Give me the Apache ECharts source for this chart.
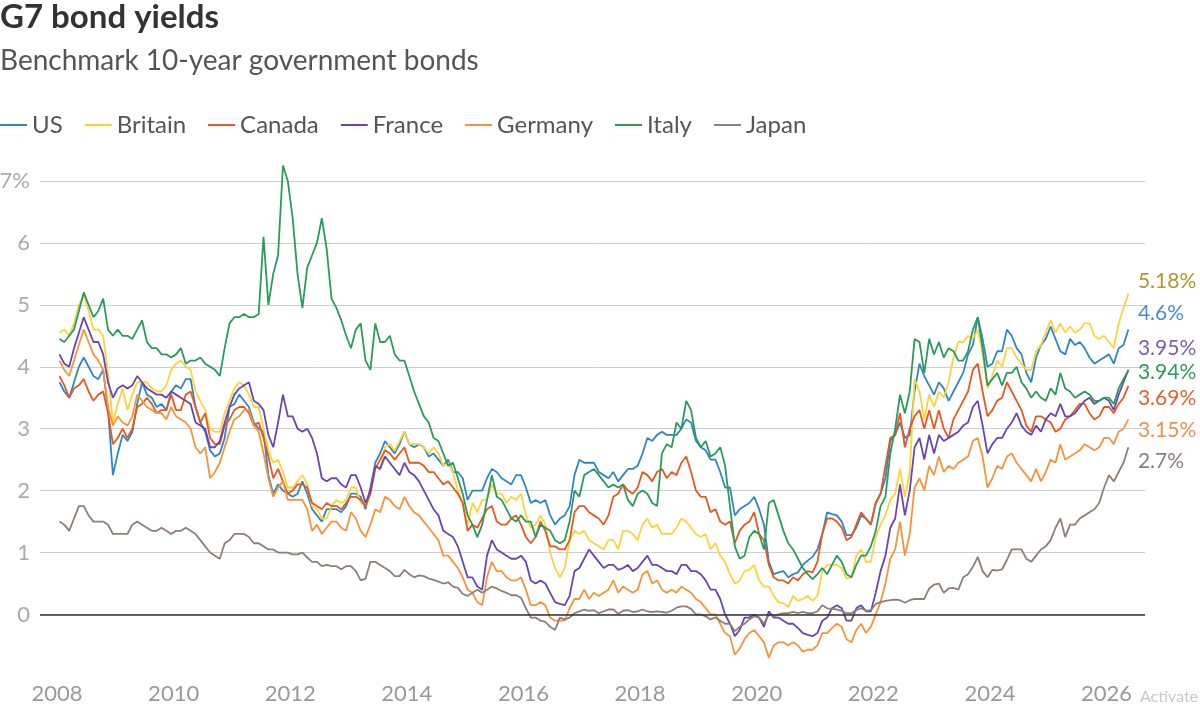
<!DOCTYPE html>
<html>
<head>
<meta charset="utf-8">
<title>G7 bond yields</title>
<script src="https://cdn.jsdelivr.net/npm/echarts@6/dist/echarts.min.js"></script>
<style>
  html, body { margin: 0; padding: 0; background: #fff; }
  #chart { width: 1200px; height: 709px; }
</style>
</head>
<body>
<div id="chart"></div>
<script>
// Benchmark 10-year government bond yields (%), one value per month,
// Jan 2008 .. May 2026
const startYear = 2008;
const yearTicks = [2008, 2010, 2012, 2014, 2016, 2018, 2020, 2022, 2024, 2026];
const countries = ['US', 'Britain', 'Canada', 'France', 'Germany', 'Italy', 'Japan'];

const usYields = [
  3.75, 3.6, 3.5, 3.75, 4.0, 4.15, 4.0, 3.85, 3.8, 3.95, 3.3, 2.25,
  2.6, 2.9, 2.8, 2.95, 3.4, 3.75, 3.55, 3.5, 3.35, 3.4, 3.3, 3.6,
  3.7, 3.65, 3.8, 3.8, 3.35, 3.1, 2.95, 2.65, 2.55, 2.6, 2.85, 3.35,
  3.4, 3.55, 3.45, 3.35, 3.1, 3.0, 2.95, 2.25, 1.95, 2.1, 2.0, 1.95,
  1.9, 1.95, 2.15, 1.95, 1.7, 1.6, 1.5, 1.7, 1.7, 1.7, 1.65, 1.75,
  1.95, 1.95, 1.9, 1.7, 2.05, 2.45, 2.6, 2.8, 2.7, 2.6, 2.75, 2.95,
  2.75, 2.7, 2.75, 2.7, 2.55, 2.6, 2.5, 2.4, 2.5, 2.3, 2.3, 2.2,
  1.85, 2.0, 2.0, 2.0, 2.2, 2.35, 2.3, 2.2, 2.15, 2.1, 2.25, 2.25,
  2.05, 1.8, 1.85, 1.8, 1.85, 1.6, 1.45, 1.55, 1.6, 1.75, 2.25, 2.5,
  2.45, 2.45, 2.45, 2.3, 2.25, 2.2, 2.3, 2.15, 2.25, 2.35, 2.35, 2.4,
  2.6, 2.85, 2.8, 2.9, 2.95, 2.9, 2.9, 2.9, 3.0, 3.15, 3.1, 2.8,
  2.7, 2.65, 2.5, 2.5, 2.3, 2.05, 2.05, 1.6, 1.7, 1.75, 1.8, 1.9,
  1.7, 1.45, 0.85, 0.65, 0.68, 0.7, 0.6, 0.65, 0.68, 0.8, 0.87, 0.93,
  1.05, 1.3, 1.65, 1.62, 1.6, 1.5, 1.28, 1.28, 1.4, 1.6, 1.55, 1.45,
  1.8, 1.95, 2.2, 2.8, 2.9, 3.1, 2.85, 2.9, 3.6, 4.05, 3.85, 3.7,
  3.55, 3.75, 3.65, 3.45, 3.6, 3.75, 3.9, 4.2, 4.35, 4.8, 4.45, 4.0,
  4.05, 4.25, 4.25, 4.6, 4.5, 4.3, 4.2, 3.9, 3.75, 4.15, 4.35, 4.45,
  4.65, 4.45, 4.25, 4.2, 4.45, 4.35, 4.4, 4.3, 4.15, 4.05, 4.1, 4.15,
  4.2, 4.05, 4.3, 4.35, 4.6
];

const britainYields = [
  4.55, 4.6, 4.5, 4.7, 5.0, 5.15, 4.9, 4.6, 4.6, 4.5, 3.9, 3.1,
  3.4, 3.65, 3.3, 3.55, 3.75, 3.75, 3.75, 3.65, 3.6, 3.6, 3.7, 3.95,
  4.05, 4.1, 4.0, 3.95, 3.6, 3.45, 3.3, 3.0, 2.95, 2.95, 3.25, 3.45,
  3.65, 3.75, 3.7, 3.55, 3.35, 3.35, 3.0, 2.65, 2.45, 2.5, 2.3, 2.05,
  2.05, 2.15, 2.25, 2.1, 1.75, 1.7, 1.55, 1.55, 1.75, 1.85, 1.8, 1.85,
  2.05, 2.05, 1.8, 1.75, 1.95, 2.4, 2.35, 2.7, 2.75, 2.65, 2.8, 2.95,
  2.75, 2.75, 2.75, 2.7, 2.6, 2.7, 2.6, 2.4, 2.45, 2.3, 2.0, 1.8,
  1.45, 1.8, 1.65, 1.85, 1.85, 2.1, 1.95, 1.95, 1.8, 1.9, 1.85, 1.95,
  1.6, 1.4, 1.45, 1.6, 1.45, 1.0, 0.75, 0.6, 0.75, 1.2, 1.35, 1.3,
  1.35, 1.2, 1.15, 1.1, 1.05, 1.2, 1.2, 1.05, 1.35, 1.35, 1.3, 1.2,
  1.45, 1.55, 1.4, 1.45, 1.3, 1.3, 1.3, 1.4, 1.55, 1.5, 1.4, 1.3,
  1.25, 1.3, 1.05, 1.15, 0.95, 0.85, 0.65, 0.5, 0.55, 0.7, 0.72, 0.8,
  0.55, 0.45, 0.45, 0.3, 0.2, 0.18, 0.12, 0.3, 0.22, 0.25, 0.3, 0.22,
  0.3, 0.7, 0.8, 0.8, 0.8, 0.75, 0.58, 0.6, 0.95, 1.05, 0.85, 0.85,
  1.25, 1.45, 1.6, 1.85, 1.95, 2.35, 1.9, 2.3, 3.8, 3.6, 3.15, 3.55,
  3.35, 3.6, 3.5, 3.75, 4.15, 4.4, 4.4, 4.5, 4.45, 4.6, 4.2, 3.65,
  3.85, 4.1, 4.0, 4.3, 4.3, 4.15, 4.05, 3.95, 3.95, 4.25, 4.35, 4.55,
  4.75, 4.55, 4.7, 4.55, 4.65, 4.55, 4.6, 4.7, 4.7, 4.5, 4.45, 4.5,
  4.4, 4.3, 4.7, 4.95, 5.18
];

const canadaYields = [
  3.85, 3.7, 3.5, 3.65, 3.7, 3.8, 3.6, 3.45, 3.55, 3.6, 3.25, 2.75,
  2.85, 3.0, 2.85, 3.0, 3.35, 3.4, 3.5, 3.4, 3.25, 3.3, 3.3, 3.55,
  3.3, 3.3, 3.55, 3.6, 3.35, 3.1, 3.25, 2.85, 2.75, 2.75, 3.05, 3.15,
  3.3, 3.35, 3.35, 3.25, 3.05, 3.1, 2.85, 2.55, 2.2, 2.35, 2.15, 1.95,
  2.0, 2.1, 2.1, 2.05, 1.8, 1.75, 1.7, 1.8, 1.75, 1.75, 1.7, 1.8,
  1.9, 1.9, 1.85, 1.75, 1.95, 2.35, 2.5, 2.65, 2.6, 2.5, 2.6, 2.7,
  2.45, 2.45, 2.45, 2.4, 2.3, 2.3, 2.2, 2.1, 2.15, 2.05, 1.95, 1.8,
  1.35, 1.45, 1.4, 1.55, 1.7, 1.75, 1.5, 1.45, 1.45, 1.55, 1.6, 1.45,
  1.25, 1.15, 1.25, 1.5, 1.35, 1.1, 1.1, 1.05, 1.05, 1.2, 1.65, 1.75,
  1.75, 1.65, 1.6, 1.55, 1.45, 1.6, 1.9, 1.95, 2.1, 2.0, 1.95, 2.05,
  2.3, 2.25, 2.15, 2.3, 2.35, 2.2, 2.3, 2.25, 2.45, 2.55, 2.3, 2.0,
  1.9, 1.9, 1.65, 1.7, 1.5, 1.45, 1.5, 1.15, 1.35, 1.45, 1.5, 1.65,
  1.3, 1.2, 0.8, 0.6, 0.55, 0.55, 0.5, 0.6, 0.55, 0.65, 0.7, 0.68,
  0.85, 1.3, 1.55, 1.55, 1.5, 1.4, 1.2, 1.25, 1.45, 1.65, 1.55, 1.45,
  1.8, 1.95, 2.4, 2.85, 2.9, 3.25, 2.7, 3.0, 3.2, 3.3, 3.0, 3.3,
  3.0, 3.3, 3.0, 2.85, 3.15, 3.3, 3.45, 3.6, 3.95, 4.05, 3.6, 3.2,
  3.3, 3.45, 3.5, 3.75, 3.6, 3.45, 3.3, 3.05, 2.95, 3.2, 3.2, 3.15,
  3.1, 2.95, 3.0, 3.15, 3.2, 3.3, 3.4, 3.4, 3.25, 3.15, 3.2, 3.35,
  3.35, 3.25, 3.4, 3.5, 3.69
];

const franceYields = [
  4.2, 4.05, 4.0, 4.3, 4.55, 4.8, 4.6, 4.4, 4.4, 4.2, 3.75, 3.5,
  3.65, 3.7, 3.65, 3.7, 3.85, 3.75, 3.65, 3.6, 3.55, 3.55, 3.5, 3.6,
  3.55, 3.5, 3.45, 3.4, 3.1, 3.05, 3.0, 2.7, 2.7, 2.8, 3.1, 3.35,
  3.55, 3.65, 3.7, 3.75, 3.45, 3.4, 3.3, 2.9, 2.7, 3.1, 3.55, 3.2,
  3.2, 3.0, 2.95, 3.0, 2.85, 2.6, 2.2, 2.15, 2.2, 2.2, 2.1, 2.05,
  2.25, 2.25, 2.05, 1.8, 2.0, 2.4, 2.35, 2.55, 2.45, 2.35, 2.25, 2.45,
  2.3, 2.25, 2.15, 2.0, 1.85, 1.7, 1.6, 1.35, 1.3, 1.25, 1.1, 0.85,
  0.6, 0.6, 0.45, 0.4, 0.95, 1.2, 1.05, 1.0, 0.95, 0.9, 0.9, 0.95,
  0.85, 0.55, 0.5, 0.55, 0.5, 0.35, 0.2, 0.17, 0.15, 0.3, 0.7, 0.75,
  0.9, 1.05, 0.95, 0.85, 0.75, 0.8, 0.8, 0.72, 0.75, 0.8, 0.7, 0.75,
  0.85, 0.95, 0.8, 0.8, 0.75, 0.7, 0.7, 0.65, 0.8, 0.8, 0.7, 0.7,
  0.65, 0.55, 0.4, 0.4, 0.25, 0.0, -0.15, -0.35, -0.25, -0.05, -0.05, 0.0,
  -0.05, -0.2, 0.05, -0.05, -0.05, -0.1, -0.15, -0.15, -0.22, -0.3, -0.33, -0.35,
  -0.3, -0.1, -0.05, 0.1, 0.15, 0.1, -0.1, -0.1, 0.1, 0.15, 0.05, 0.05,
  0.35, 0.7, 0.95, 1.4, 1.55, 2.1, 1.6, 2.0, 2.7, 2.85, 2.5, 2.9,
  2.6, 2.9, 2.8, 2.85, 2.9, 2.95, 3.05, 3.1, 3.35, 3.45, 3.05, 2.6,
  2.75, 2.85, 2.85, 3.0, 3.1, 3.25, 3.05, 2.95, 2.9, 3.05, 2.95, 3.15,
  3.25, 3.2, 3.4, 3.2, 3.2, 3.25, 3.35, 3.45, 3.5, 3.4, 3.45, 3.5,
  3.45, 3.3, 3.55, 3.75, 3.95
];

const germanyYields = [
  4.1, 3.95, 3.85, 4.1, 4.35, 4.6, 4.4, 4.2, 4.1, 3.95, 3.35, 3.05,
  3.2, 3.1, 3.05, 3.2, 3.55, 3.45, 3.35, 3.3, 3.25, 3.25, 3.15, 3.35,
  3.2, 3.15, 3.1, 3.0, 2.7, 2.6, 2.7, 2.2, 2.3, 2.45, 2.7, 2.95,
  3.15, 3.2, 3.3, 3.3, 3.05, 2.95, 2.6, 2.2, 1.9, 2.05, 2.15, 1.85,
  1.85, 1.85, 1.85, 1.7, 1.35, 1.45, 1.3, 1.4, 1.5, 1.5, 1.4, 1.35,
  1.65, 1.55, 1.35, 1.25, 1.45, 1.7, 1.65, 1.9, 1.85, 1.75, 1.7, 1.9,
  1.75, 1.65, 1.6, 1.5, 1.4, 1.3, 1.2, 0.95, 0.95, 0.85, 0.75, 0.6,
  0.4, 0.35, 0.2, 0.15, 0.6, 0.85, 0.7, 0.7, 0.6, 0.55, 0.55, 0.6,
  0.4, 0.15, 0.15, 0.2, 0.15, -0.05, -0.1, -0.1, -0.1, 0.1, 0.25, 0.25,
  0.4, 0.25, 0.35, 0.3, 0.35, 0.4, 0.55, 0.35, 0.45, 0.4, 0.35, 0.4,
  0.65, 0.7, 0.5, 0.55, 0.4, 0.35, 0.4, 0.35, 0.45, 0.4, 0.35, 0.25,
  0.2, 0.1, 0.0, 0.0, -0.15, -0.3, -0.35, -0.65, -0.55, -0.4, -0.3, -0.25,
  -0.35, -0.45, -0.7, -0.5, -0.45, -0.45, -0.5, -0.45, -0.5, -0.6, -0.57, -0.57,
  -0.5, -0.3, -0.3, -0.22, -0.15, -0.2, -0.4, -0.45, -0.25, -0.15, -0.3, -0.2,
  0.0, 0.2, 0.5, 0.9, 1.05, 1.5, 0.95, 1.3, 2.05, 2.2, 2.0, 2.4,
  2.25, 2.55, 2.3, 2.4, 2.35, 2.45, 2.5, 2.55, 2.8, 2.85, 2.55, 2.05,
  2.2, 2.4, 2.35, 2.55, 2.6, 2.45, 2.35, 2.25, 2.15, 2.35, 2.15, 2.3,
  2.5, 2.45, 2.75, 2.5, 2.55, 2.6, 2.65, 2.75, 2.7, 2.65, 2.7, 2.85,
  2.85, 2.75, 2.95, 3.0, 3.15
];

const italyYields = [
  4.45, 4.4, 4.5, 4.6, 4.9, 5.2, 5.0, 4.8, 4.9, 5.1, 4.6, 4.5,
  4.6, 4.5, 4.5, 4.45, 4.6, 4.75, 4.4, 4.3, 4.3, 4.2, 4.2, 4.15,
  4.2, 4.3, 4.05, 4.1, 4.1, 4.15, 4.05, 4.0, 3.95, 3.85, 4.3, 4.7,
  4.8, 4.8, 4.85, 4.8, 4.8, 4.85, 6.1, 5.0, 5.5, 5.8, 7.25, 7.0,
  6.4, 5.5, 4.95, 5.6, 5.8, 6.0, 6.4, 5.9, 5.1, 4.95, 4.75, 4.5,
  4.3, 4.6, 4.7, 4.1, 3.95, 4.7, 4.4, 4.4, 4.5, 4.2, 4.1, 4.1,
  3.85, 3.6, 3.4, 3.2, 3.1, 2.85, 2.8, 2.6, 2.4, 2.45, 2.2, 1.95,
  1.6, 1.45, 1.25, 1.45, 1.85, 2.25, 1.9, 1.85, 1.7, 1.55, 1.5, 1.6,
  1.5, 1.5, 1.25, 1.45, 1.4, 1.35, 1.2, 1.15, 1.2, 1.5, 2.0, 1.9,
  2.25, 2.3, 2.35, 2.25, 2.15, 2.05, 2.1, 2.05, 2.1, 1.85, 1.75, 1.95,
  2.0, 1.95, 1.8, 1.75, 2.6, 2.75, 2.7, 3.1, 3.0, 3.45, 3.3, 2.85,
  2.7, 2.8, 2.55, 2.6, 2.7, 2.4, 1.75, 1.1, 0.9, 0.95, 1.25, 1.35,
  1.3, 1.05, 1.8, 1.85, 1.6, 1.35, 1.15, 1.05, 0.9, 0.75, 0.65, 0.57,
  0.65, 0.75, 0.65, 0.8, 0.95, 0.85, 0.65, 0.6, 0.8, 0.95, 0.95, 1.1,
  1.35, 1.75, 1.9, 2.6, 3.0, 3.55, 3.25, 3.6, 4.45, 4.4, 3.9, 4.45,
  4.2, 4.4, 4.15, 4.3, 4.25, 4.1, 4.1, 4.25, 4.6, 4.8, 4.3, 3.7,
  3.8, 3.9, 3.7, 3.9, 3.9, 4.0, 3.75, 3.65, 3.5, 3.6, 3.5, 3.45,
  3.65, 3.55, 3.9, 3.65, 3.6, 3.5, 3.55, 3.6, 3.55, 3.45, 3.45, 3.5,
  3.5, 3.4, 3.65, 3.8, 3.94
];

const japanYields = [
  1.5, 1.45, 1.35, 1.55, 1.75, 1.75, 1.6, 1.5, 1.5, 1.5, 1.45, 1.3,
  1.3, 1.3, 1.3, 1.45, 1.5, 1.45, 1.4, 1.35, 1.35, 1.4, 1.35, 1.3,
  1.35, 1.35, 1.4, 1.35, 1.3, 1.2, 1.1, 1.0, 0.95, 0.9, 1.15, 1.2,
  1.3, 1.3, 1.3, 1.25, 1.15, 1.15, 1.1, 1.05, 1.05, 1.0, 1.0, 1.0,
  0.97, 0.97, 1.0, 0.92, 0.85, 0.85, 0.78, 0.8, 0.78, 0.78, 0.73, 0.78,
  0.78, 0.7, 0.55, 0.58, 0.85, 0.85, 0.8, 0.75, 0.7, 0.62, 0.62, 0.72,
  0.65, 0.6, 0.63, 0.62, 0.58, 0.56, 0.53, 0.5, 0.52, 0.45, 0.43, 0.33,
  0.3, 0.35, 0.4, 0.35, 0.4, 0.45, 0.42, 0.38, 0.35, 0.31, 0.31, 0.27,
  0.1, -0.05, -0.05, -0.1, -0.12, -0.2, -0.25, -0.05, -0.08, -0.05, 0.02, 0.05,
  0.08, 0.06, 0.07, 0.02, 0.05, 0.08, 0.08, 0.01, 0.06, 0.07, 0.04, 0.05,
  0.08, 0.05, 0.04, 0.05, 0.04, 0.03, 0.06, 0.11, 0.13, 0.13, 0.09, 0.0,
  0.0, -0.03, -0.08, -0.05, -0.1, -0.15, -0.15, -0.27, -0.2, -0.15, -0.08, -0.03,
  -0.05, -0.15, 0.0, -0.03, 0.0, 0.02, 0.02, 0.04, 0.02, 0.04, 0.02, 0.02,
  0.05, 0.15, 0.1, 0.09, 0.08, 0.06, 0.02, 0.02, 0.07, 0.1, 0.06, 0.07,
  0.17, 0.2, 0.22, 0.23, 0.24, 0.23, 0.19, 0.23, 0.25, 0.25, 0.25, 0.42,
  0.48, 0.5, 0.35, 0.42, 0.43, 0.4, 0.6, 0.65, 0.77, 0.93, 0.7, 0.6,
  0.72, 0.71, 0.73, 0.88, 1.05, 1.05, 1.05, 0.9, 0.85, 0.95, 1.05, 1.1,
  1.2, 1.4, 1.55, 1.25, 1.45, 1.45, 1.55, 1.6, 1.65, 1.7, 1.8, 2.05,
  2.25, 2.15, 2.3, 2.45, 2.7
];

const yieldsByCountry = [usYields, britainYields, canadaYields, franceYields, germanyYields, italyYields, japanYields];

// styling
const FONT = 'Lato, "Noto Sans", sans-serif';
const lineColors = ['#2f86c6', '#fdd33b', '#e7581f', '#6a45b0', '#f7943a', '#2a9b5b', '#8f7f75'];
const labelColors = ['#4b8ccc', '#b3972c', '#e06432', '#7b5db7', '#e9924a', '#2f9a5c', '#8a7f7a'];
// vertical nudge of each end label so they don't collide
const labelShift = [-16, -12, 12, -22, 11, 2, 14];

const toPoints = (vals) => vals.map((v, i) => [startYear + (i + 0.5) / 12, v]);

const chart = echarts.init(document.getElementById('chart'));

const series = countries.map((name, k) => {
  const pts = toPoints(yieldsByCountry[k]);
  const last = pts[pts.length - 1];
  const s = {
    name,
    type: 'line',
    data: pts,
    showSymbol: false,
    symbol: 'none',
    color: lineColors[k],
    lineStyle: { width: 1.8, color: lineColors[k] },
    emphasis: { disabled: true },
    markPoint: {
      silent: true,
      symbol: 'circle',
      symbolSize: 1,
      itemStyle: { color: 'rgba(0,0,0,0)' },
      label: {
        show: true,
        position: 'right',
        distance: 9,
        offset: [0, labelShift[k]],
        formatter: (p) => p.value + '%',
        color: labelColors[k],
        fontSize: 21,
        fontFamily: FONT
      },
      data: [{ coord: last, value: last[1] }]
    }
  };
  if (k === 0) {
    s.markLine = {
      silent: true,
      symbol: 'none',
      label: { show: false },
      lineStyle: { color: '#333', width: 1.5, type: 'solid' },
      data: [{ yAxis: 0 }]
    };
  }
  return s;
});

chart.setOption({
  animation: false,
  title: [
    {
      text: 'G7 bond yields',
      left: 0, top: 1, padding: 0,
      textStyle: { fontSize: 33, fontWeight: 'bold', color: '#333', fontFamily: FONT }
    },
    {
      text: 'Benchmark 10-year government bonds',
      left: 0, top: 47, padding: 0,
      textStyle: { fontSize: 28, fontWeight: 'normal', color: '#555', fontFamily: FONT }
    }
  ],
  legend: {
    data: countries,
    left: 0,
    top: 113,
    padding: 0,
    icon: 'rect',
    itemWidth: 27,
    itemHeight: 2,
    itemGap: 22,
    selectedMode: false,
    textStyle: { fontSize: 24, color: '#555', fontFamily: FONT }
  },
  grid: { left: 40, right: 55, top: 150, bottom: 32.6, outerBoundsMode: 'none' },
  xAxis: {
    type: 'value',
    min: 2007.708,
    max: 2026.66,
    axisLine: { show: false },
    axisTick: { show: false },
    splitLine: { show: false },
    axisLabel: {
      customValues: yearTicks,
      formatter: (v) => String(Math.round(v)),
      margin: 7,
      fontSize: 22,
      color: '#999',
      fontFamily: FONT
    }
  },
  yAxis: {
    type: 'value',
    min: -1,
    max: 7.5,
    interval: 1,
    axisLine: { show: false },
    axisTick: { show: false },
    splitLine: { showMinLine: false, showMaxLine: false, lineStyle: { color: '#cfcfcf', width: 1 } },
    axisLabel: {
      margin: 10,
      fontSize: 22,
      color: '#aaa',
      fontFamily: FONT,
      formatter: (v) => (v < 0 || v % 1 !== 0) ? '' : (v === 7 ? '7%' : String(v))
    }
  },
  graphic: [{
    type: 'text',
    left: 1140,
    top: 689,
    style: { text: 'Activate', fontSize: 16, fill: '#c8c8c8', fontFamily: FONT }
  }],
  series
});
</script>
</body>
</html>
